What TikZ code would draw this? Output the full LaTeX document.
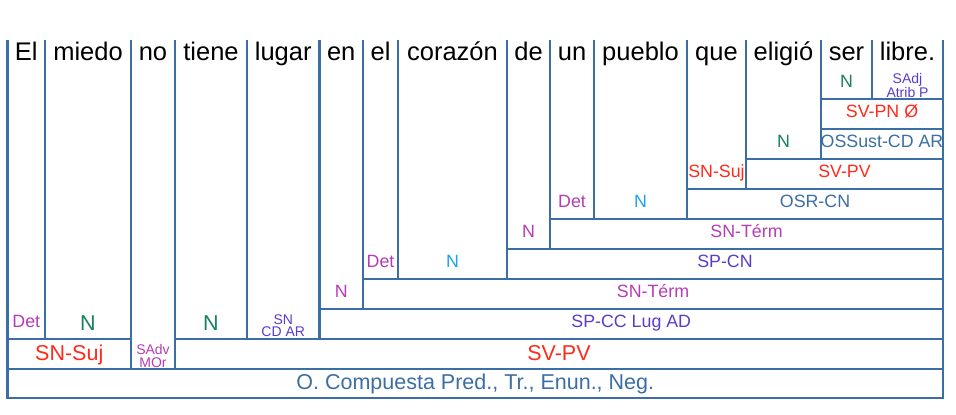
\documentclass[tikz,border=0pt]{standalone}
\usepackage{fontspec}
\setmainfont{Liberation Sans}
\definecolor{frame}{HTML}{3B6EA5}
\definecolor{rojo}{HTML}{FF2A1A}
\definecolor{mag}{HTML}{B43CB4}
\definecolor{grn}{HTML}{178062}
\definecolor{cyn}{HTML}{1CA3E8}
\definecolor{vio}{HTML}{5A3CC8}

\begin{document}
\begin{tikzpicture}[
    x=1pt, y=-1pt,
    cell/.style={
		draw=frame,
		line width=2.8pt
	},
	word/.style={
		anchor=base,
		inner sep=0pt,
		font=\fontsize{25.5}{28}\selectfont
	},
	tag/.style={
		anchor=base,
		inner sep=0pt,
		font=\fontsize{17.8}{20}\selectfont
	},
	bigtag/.style={
		anchor=base,
		inner sep=0pt,
		font=\fontsize{21.5}{24}\selectfont
	},
	smalltag/.style={
		anchor=south,
		align=center,
		inner sep=0pt,
		font=\fontsize{14}{12.5}\selectfont
	}
  ]
  \useasboundingbox (0,0) rectangle (956,415);

    % We start by placing the words and their columns
  \foreach \xa/\xb/\yb/\w/\t/\s/\c/\o [count=\i] in {
      7.5/45/339/El/Det/tag/mag/12,
      45/131/339/miedo/N/bigtag/grn/9,
      131/175/369/no/{SAdv\\MOr}/smalltag/mag/1.5,
      175/247/339/tiene/N/bigtag/grn/9,
      247/319.5/339/lugar/{SN\\CD AR}/smalltag/vio/2,
      319.5/363/309/en/N/tag/mag/12,
      363/398/279/el/Det/tag/mag/11.5,
      398/507/279/corazón/N/tag/cyn/11.5,
      507/550/249/de/N/tag/mag/12,
      550/594/219/un/Det/tag/mag/12,
      594/687/219/pueblo/N/tag/cyn/12,
      687/746/189/que/SN-Suj/tag/rojo/12,
      746/821/159/eligió/N/tag/grn/12,
      821/872/99/ser/N/tag/grn/12,
      872/943/99/libre./{SAdj\\Atrib P}/smalltag/vio/1.5}
  {
    \node [word] (w\i) at ({(\xa+\xb)/2}, 60) {\w};
    \node [\s, text=\c] (t\i) at ({(\xa+\xb)/2}, \yb-\o) {\t};
    \draw [cell] (\xa,40) |- (\xb,\yb) -- (\xb,40);
  }

    % then the phrase boxes
  \foreach \xa/\xb/\ya/\yb/\t/\s/\c/\o [count=\i] in {
      7.5/131/339/369/SN-Suj/bigtag/rojo/9,
      175/943/339/369/SV-PV/bigtag/rojo/9,
      7.5/943/369/398/{O. Compuesta Pred., Tr., Enun., Neg.}/bigtag/frame/8.5,
      319.5/943/309/339/SP-CC Lug AD/tag/vio/11.5,
      363/943/279/309/SN-Térm/tag/mag/11.5,
      507/943/249/279/SP-CN/tag/vio/11.5,
      550/943/219/249/SN-Térm/tag/mag/11.5,
      687/943/189/219/OSR-CN/tag/frame/12,
      746/943/159/189/SV-PV/tag/rojo/12,
      821/943/129/159/OSSust-CD AR/tag/frame/11.5,
      821/943/99/129/SV-PN Ø/tag/rojo/11.5}
  {
    \node [\s, text=\c] (p\i) at ({(\xa+\xb)/2}, \yb-\o) {\t};
    \draw [cell] (\xa,\ya) rectangle (\xb,\yb);
  }
\end{tikzpicture}
\end{document}
